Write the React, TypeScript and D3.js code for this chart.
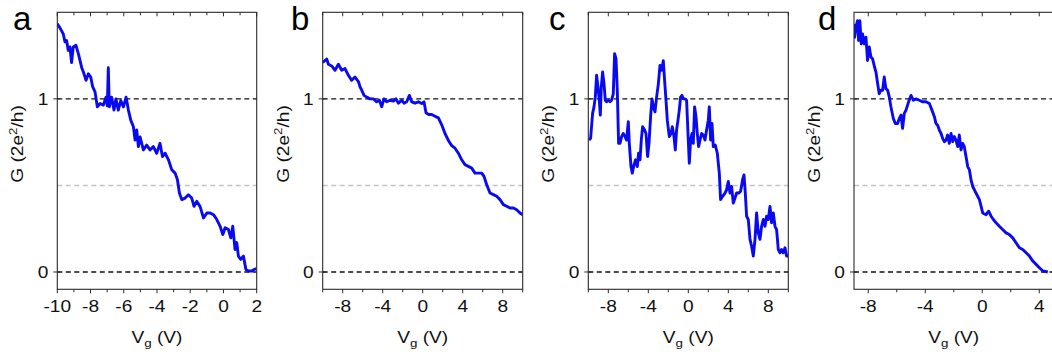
import * as d3 from 'd3';

// panel a: Vg from -10 to 2 V
const vgA = [-10, -9.84, -9.64, -9.54, -9.44, -9.34, -9.24, -9.14, -9.04, -8.88, -8.73, -8.53, -8.43, -8.27, -8.13, -7.99, -7.87, -7.73, -7.59, -7.43, -7.23, -7.07, -6.99, -6.93, -6.87, -6.73, -6.59, -6.47, -6.33, -6.18, -6.02, -5.86, -5.72, -5.58, -5.42, -5.32, -5.22, -5.12, -5.02, -4.82, -4.62, -4.42, -4.22, -4.02, -3.82, -3.67, -3.51, -3.31, -3.11, -2.91, -2.77, -2.65, -2.51, -2.31, -2.11, -1.91, -1.77, -1.61, -1.41, -1.2, -1.0, -0.8, -0.6, -0.4, -0.2, -0.04, 0.1, 0.3, 0.44, 0.56, 0.7, 0.8, 0.9, 1.04, 1.2, 1.35, 1.51, 1.71, 1.85, 2.0];
const gA = [1.433, 1.41, 1.375, 1.33, 1.337, 1.28, 1.3, 1.21, 1.3, 1.31, 1.26, 1.18, 1.155, 1.107, 1.145, 1.126, 1.07, 1.04, 0.954, 0.973, 0.964, 1.01, 0.96, 1.18, 0.954, 1.01, 0.935, 1.0, 0.935, 0.99, 0.954, 1.01, 0.935, 0.877, 0.839, 0.762, 0.82, 0.724, 0.78, 0.705, 0.733, 0.705, 0.724, 0.686, 0.743, 0.667, 0.686, 0.648, 0.59, 0.571, 0.533, 0.456, 0.418, 0.427, 0.446, 0.427, 0.379, 0.408, 0.379, 0.312, 0.341, 0.341, 0.331, 0.303, 0.264, 0.216, 0.255, 0.245, 0.197, 0.264, 0.13, 0.17, 0.092, 0.073, 0.092, 0.015, 0.006, 0.006, 0.015, 0.02];

// panel b
const vgB = [-10, -9.6, -9.43, -9.1, -8.77, -8.43, -8.1, -7.77, -7.43, -7.1, -6.77, -6.43, -6.27, -6.1, -5.87, -5.6, -5.27, -4.93, -4.6, -4.33, -4.1, -3.87, -3.6, -3.27, -2.93, -2.67, -2.43, -2.1, -1.87, -1.6, -1.33, -1.1, -0.77, -0.43, -0.1, 0.13, 0.33, 0.57, 0.9, 1.23, 1.57, 1.9, 2.23, 2.57, 2.9, 3.23, 3.57, 3.9, 4.23, 4.57, 4.9, 5.23, 5.57, 5.9, 6.13, 6.4, 6.73, 7.07, 7.4, 7.73, 8.07, 8.4, 8.73, 9.07, 9.4, 9.73, 10];
const gB = [1.21, 1.23, 1.2, 1.19, 1.165, 1.2, 1.165, 1.175, 1.136, 1.107, 1.126, 1.1, 1.07, 1.05, 1.02, 1.01, 1.0, 1.0, 0.983, 0.992, 0.954, 1.0, 0.983, 0.992, 0.987, 1.0, 0.975, 0.992, 0.975, 0.983, 1.02, 0.983, 0.975, 0.983, 0.973, 0.983, 0.92, 0.91, 0.91, 0.9, 0.89, 0.85, 0.8, 0.76, 0.73, 0.715, 0.686, 0.648, 0.62, 0.61, 0.6, 0.571, 0.571, 0.571, 0.552, 0.504, 0.456, 0.447, 0.437, 0.418, 0.389, 0.38, 0.37, 0.37, 0.36, 0.341, 0.331];

// panel c
const vgC = [-9.93, -9.77, -9.57, -9.43, -9.3, -9.17, -9.03, -8.9, -8.8, -8.7, -8.57, -8.43, -8.3, -8.17, -8.0, -7.83, -7.67, -7.5, -7.37, -7.23, -7.1, -6.97, -6.83, -6.67, -6.5, -6.33, -6.17, -6.0, -5.9, -5.73, -5.6, -5.43, -5.27, -5.1, -4.97, -4.83, -4.7, -4.57, -4.37, -4.23, -4.07, -3.93, -3.77, -3.63, -3.5, -3.33, -3.17, -3.0, -2.83, -2.67, -2.5, -2.37, -2.23, -2.1, -1.9, -1.73, -1.6, -1.43, -1.3, -1.17, -1.03, -0.9, -0.77, -0.63, -0.5, -0.33, -0.17, -0.03, 0.1, 0.23, 0.37, 0.5, 0.63, 0.77, 0.9, 1.03, 1.17, 1.33, 1.5, 1.67, 1.83, 2.0, 2.1, 2.23, 2.37, 2.5, 2.7, 2.9, 3.1, 3.23, 3.43, 3.67, 3.83, 4.0, 4.17, 4.33, 4.5, 4.67, 4.83, 5.03, 5.23, 5.43, 5.57, 5.7, 5.83, 6.0, 6.17, 6.33, 6.5, 6.67, 6.83, 7.0, 7.17, 7.33, 7.5, 7.67, 7.83, 8.0, 8.17, 8.33, 8.5, 8.67, 8.83, 9.0, 9.17, 9.33, 9.5, 9.67, 9.83, 10.0];
const gC = [0.762, 0.772, 0.916, 0.954, 1.01, 1.136, 1.069, 0.992, 0.906, 1.069, 1.155, 1.088, 0.992, 0.983, 0.992, 0.983, 0.992, 1.03, 1.261, 1.232, 1.05, 0.743, 0.743, 0.782, 0.8, 0.782, 0.762, 0.868, 0.743, 0.609, 0.571, 0.619, 0.648, 0.609, 0.686, 0.648, 0.762, 0.839, 0.82, 0.8, 0.667, 0.743, 0.897, 1.0, 0.954, 0.925, 1.01, 1.084, 1.193, 1.165, 1.22, 1.107, 0.992, 0.877, 0.782, 0.8, 0.839, 0.782, 0.705, 0.82, 0.877, 0.935, 1.01, 1.02, 1.0, 1.0, 0.992, 0.8, 0.628, 0.762, 0.8, 0.743, 0.954, 0.897, 0.8, 0.724, 0.762, 0.8, 0.791, 0.762, 0.82, 0.877, 0.954, 0.762, 0.858, 0.724, 0.733, 0.686, 0.571, 0.418, 0.437, 0.456, 0.475, 0.523, 0.456, 0.494, 0.398, 0.427, 0.456, 0.456, 0.466, 0.533, 0.561, 0.456, 0.322, 0.303, 0.188, 0.149, 0.092, 0.188, 0.341, 0.226, 0.188, 0.264, 0.303, 0.264, 0.322, 0.303, 0.379, 0.284, 0.341, 0.264, 0.245, 0.13, 0.111, 0.13, 0.111, 0.14, 0.092, 0.092];

// panel d
const vgD = [-9.0, -8.96, -8.87, -8.75, -8.68, -8.59, -8.49, -8.4, -8.28, -8.16, -8.05, -7.93, -7.81, -7.7, -7.56, -7.46, -7.34, -7.23, -7.11, -6.99, -6.88, -6.76, -6.64, -6.52, -6.41, -6.24, -6.1, -5.94, -5.82, -5.7, -5.59, -5.47, -5.35, -5.17, -5.0, -4.84, -4.65, -4.42, -4.18, -3.95, -3.71, -3.53, -3.36, -3.25, -3.13, -3.01, -2.89, -2.78, -2.66, -2.54, -2.43, -2.31, -2.19, -2.07, -1.96, -1.84, -1.72, -1.61, -1.49, -1.37, -1.26, -1.14, -1.02, -0.9, -0.79, -0.67, -0.55, -0.44, -0.2, -0.08, 0.03, 0.27, 0.45, 0.62, 0.78, 0.97, 1.2, 1.43, 1.67, 1.9, 2.14, 2.37, 2.61, 2.84, 3.08, 3.31, 3.55, 3.78, 4.01, 4.25, 4.6];
const gD = [1.433, 1.356, 1.414, 1.452, 1.337, 1.452, 1.318, 1.375, 1.318, 1.356, 1.222, 1.3, 1.241, 1.232, 1.184, 1.155, 1.088, 1.03, 1.05, 1.05, 1.126, 1.059, 1.05, 1.01, 0.954, 0.887, 0.858, 0.858, 0.887, 0.906, 0.83, 0.916, 0.935, 0.983, 1.02, 0.992, 1.0, 0.992, 0.983, 0.983, 0.973, 0.935, 0.897, 0.858, 0.848, 0.82, 0.8, 0.772, 0.753, 0.762, 0.791, 0.743, 0.8, 0.753, 0.782, 0.762, 0.724, 0.791, 0.705, 0.743, 0.724, 0.667, 0.609, 0.59, 0.533, 0.494, 0.475, 0.456, 0.418, 0.379, 0.341, 0.331, 0.351, 0.322, 0.303, 0.284, 0.264, 0.245, 0.226, 0.216, 0.197, 0.169, 0.14, 0.13, 0.111, 0.092, 0.063, 0.044, 0.025, 0.006, 0.0];

const letters = ['a', 'b', 'c', 'd'];
const xDomains = [[-10, 2], [-10, 10], [-10, 10], [-9, 5]];
const xLabelTicks = [[-10, -8, -6, -4, -2, 0, 2], [-8, -4, 0, 4, 8], [-8, -4, 0, 4, 8], [-8, -4, 0, 4]];
const xMinorStep = [1, 2, 2, 2];
const yTicks = [0, 1];
const refLevels = [0, 0.5, 1];

const series = [
  { vg: vgA, g: gA },
  { vg: vgB, g: gB },
  { vg: vgC, g: gC },
  { vg: vgD, g: gD },
];

const W = 1052;
const H = 360;
const plotLefts = [57.3, 322.7, 588.3, 854];
const plotWidths = [199.4, 200, 200, 199.5];
const letterX = [13, 291, 549, 818];
const top = 12.3;
const bottom = 289.3;
const font = "'Liberation Sans', Arial, sans-serif";
const fs = 16.5;
const stretch = 1.16;
const ink = '#111';
const frame = '#2a2a2a';

function Panel({ i }: { i: number }) {
  const left = plotLefts[i];
  const right = left + plotWidths[i];
  const x = d3.scaleLinear().domain(xDomains[i]).range([left, right]);
  const y = d3.scaleLinear().domain([-0.1, 1.5]).range([bottom, top]);
  const pts = series[i].vg.map((v, k) => [v, series[i].g[k]] as [number, number]);
  const line = d3
    .line<[number, number]>()
    .x((d) => x(d[0]))
    .y((d) => y(d[1]));

  const [d0, d1] = xDomains[i];
  const minor = d3.range(Math.ceil(d0 / xMinorStep[i]) * xMinorStep[i], d1 + 0.001, xMinorStep[i]);
  const cx = (left + right) / 2;

  return (
    <g>
      <defs>
        <clipPath id={`clip-${i}`}>
          <rect x={left} y={top - 3} width={right - left} height={bottom - top + 3} />
        </clipPath>
      </defs>
      {refLevels.map((lv) => (
        <line
          key={lv}
          x1={left}
          x2={right}
          y1={y(lv)}
          y2={y(lv)}
          stroke={lv === 0.5 ? '#c4c4c4' : ink}
          strokeWidth={1.4}
          strokeDasharray="5,3.5"
        />
      ))}
      <path
        d={line(pts) ?? ''}
        fill="none"
        stroke="#0a0af2"
        strokeWidth={2.9}
        strokeLinejoin="round"
        clipPath={`url(#clip-${i})`}
      />
      <rect x={left} y={top} width={right - left} height={bottom - top} fill="none" stroke={frame} strokeWidth={1.1} />
      {minor.map((t) => {
        const major = xLabelTicks[i].includes(t);
        return (
          <g key={t}>
            <line x1={x(t)} x2={x(t)} y1={bottom} y2={bottom + (major ? 4 : 3)} stroke={frame} />
            <line x1={x(t)} x2={x(t)} y1={top} y2={top + (major ? 4 : 3)} stroke={frame} />
          </g>
        );
      })}
      {xLabelTicks[i].map((t) => (
        <text
          key={t}
          transform={`translate(${x(t)},${bottom + 22.5}) scale(${stretch},1)`}
          textAnchor="middle"
          fontSize={fs}
          fontFamily={font}
          fill={ink}
        >
          {t}
        </text>
      ))}
      {yTicks.map((t) => (
        <g key={t}>
          <line x1={left - 4} x2={left + 3} y1={y(t)} y2={y(t)} stroke={frame} />
          <text
            transform={`translate(${left - 9},${y(t)}) scale(${stretch},1)`}
            dy="0.36em"
            textAnchor="end"
            fontSize={fs}
            fontFamily={font}
            fill={ink}
          >
            {t}
          </text>
        </g>
      ))}
      <text
        transform={`translate(${cx},${343}) scale(${stretch},1)`}
        textAnchor="middle"
        fontSize={fs}
        fontFamily={font}
        fill={ink}
      >
        V<tspan fontSize={11.5} dy={4}>g</tspan>
        <tspan dy={-4}> (V)</tspan>
      </text>
      <text
        transform={`translate(${left - 34},${144}) rotate(-90) scale(${stretch},1)`}
        textAnchor="middle"
        fontSize={fs}
        fontFamily={font}
        fill={ink}
      >
        G (2e<tspan fontSize={11.5} dy={-6.5}>2</tspan>
        <tspan dy={6.5}>/h)</tspan>
      </text>
      <text x={letterX[i]} y={30} fontSize={33} fontFamily={font} fill="#000">
        {letters[i]}
      </text>
    </g>
  );
}

export default function App() {
  return (
    <svg
      width={W}
      height={H}
      viewBox={`0 0 ${W} ${H}`}
      style={{ position: 'absolute', left: 0, top: 0, background: '#fff' }}
    >
      {letters.map((_, i) => (
        <Panel key={i} i={i} />
      ))}
    </svg>
  );
}
